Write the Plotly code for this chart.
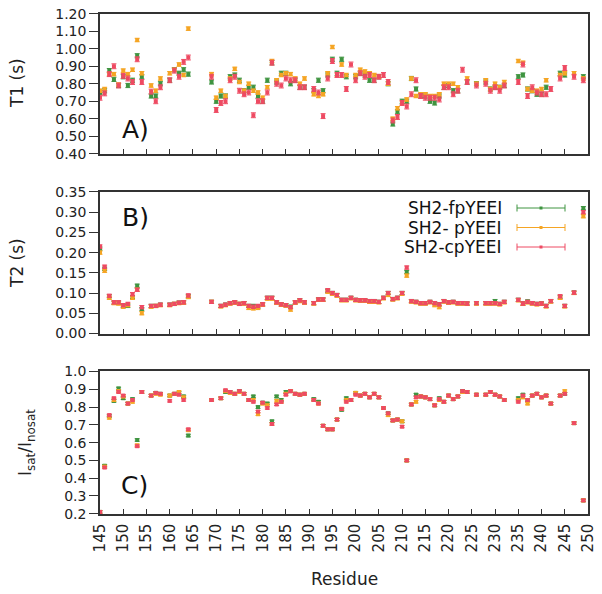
import plotly.graph_objects as go
from plotly.subplots import make_subplots

N = None
residues = [145,146,147,148,149,150,151,152,153,154,156,157,158,160,161,162,163,164,
            169,170,171,172,173,174,175,176,177,178,179,180,181,182,183,184,185,186,187,188,189,
            191,192,193,194,195,196,197,198,199,200,201,202,203,204,205,206,207,208,209,210,
            211,212,213,214,215,216,217,218,219,220,221,222,223,224,226,228,229,230,231,232,
            235,236,237,238,239,240,241,242,244,245,247,249]

t1_fp = [0.75,0.76,0.875,0.825,0.79,0.84,0.79,0.82,0.96,0.84,0.73,0.73,0.80,0.82,0.88,0.86,0.88,0.855,
         0.81,0.70,0.73,0.73,0.84,0.85,0.82,0.76,0.78,0.78,0.73,0.70,0.82,0.92,0.81,0.86,0.86,0.80,0.82,0.78,0.78,
         0.76,0.82,0.76,0.85,0.94,0.86,0.94,0.84,N,0.84,0.86,0.85,0.82,0.82,0.84,N,0.80,0.57,0.64,0.70,
         0.70,0.83,0.77,0.73,0.73,0.70,0.69,0.73,0.78,0.79,0.76,0.76,N,0.81,0.80,0.81,0.77,0.78,0.78,0.79,
         0.84,0.85,0.77,0.76,0.74,0.74,0.78,N,0.86,0.85,N,0.84]
t1_p = [0.76,0.77,0.855,0.855,0.795,0.875,0.855,0.88,1.05,0.86,0.79,0.76,0.83,0.86,0.88,0.91,0.85,1.115,
        0.855,0.72,0.76,0.73,0.83,0.885,0.81,0.76,0.80,0.76,0.75,0.72,0.78,0.93,0.82,0.85,0.86,0.855,0.83,0.80,0.83,
        0.74,0.73,0.74,0.86,1.01,0.85,0.91,0.85,N,0.85,0.88,0.87,0.86,0.85,0.84,N,0.80,0.60,0.66,0.69,
        0.71,0.83,0.73,0.74,0.74,0.73,0.73,0.74,0.80,0.80,0.80,0.78,N,0.83,0.80,0.82,0.77,0.80,0.78,0.81,
        0.93,0.92,0.77,0.76,0.76,0.77,0.82,N,0.85,0.86,0.86,0.83]
t1_cp = [0.72,0.745,0.855,0.90,0.79,0.845,0.83,0.81,0.94,0.81,0.755,0.70,0.78,0.82,0.875,0.84,0.925,0.95,
         0.84,0.65,0.69,0.70,0.82,0.84,0.76,0.74,0.75,0.62,0.70,0.70,0.75,0.92,0.80,0.79,0.83,0.82,0.82,0.78,0.78,
         0.77,0.75,0.615,0.83,0.93,0.85,0.85,0.77,0.91,0.82,0.86,0.84,0.85,0.82,0.84,0.85,0.81,0.59,0.61,0.69,
         0.67,0.74,0.82,0.73,0.72,0.72,0.72,0.71,0.78,0.78,0.74,0.76,0.88,0.81,0.79,0.80,0.76,0.78,0.76,0.79,
         0.81,0.91,0.73,0.78,0.75,0.74,0.74,0.77,0.83,0.89,0.84,0.82]

t2_fp = [0.21,0.16,0.092,0.076,0.076,0.068,0.068,0.090,0.118,0.060,0.068,0.068,0.071,0.071,0.073,0.076,0.077,0.092,
         0.078,N,0.068,0.071,0.075,0.077,0.073,0.075,0.068,0.068,0.066,0.072,0.088,0.088,0.077,0.072,0.070,0.066,0.077,0.082,0.077,
         0.075,0.084,0.084,0.105,0.100,0.095,0.083,0.083,0.088,0.083,0.082,0.082,0.080,0.080,0.078,0.088,0.100,0.085,0.088,0.100,
         0.152,0.080,0.078,0.075,0.075,0.078,0.075,0.072,0.080,0.077,0.078,0.075,0.075,0.074,0.075,0.075,0.075,0.080,0.073,0.078,
         0.083,0.074,0.079,0.075,0.073,0.074,0.068,0.080,0.090,0.068,0.101,0.310]
t2_p = [0.20,0.155,0.088,0.075,0.074,0.066,0.070,0.088,0.108,0.050,0.066,0.068,0.070,0.070,0.073,0.075,0.076,0.090,
        0.078,N,0.067,0.070,0.074,0.076,0.073,0.074,0.063,0.062,0.063,0.071,0.086,0.086,0.076,0.071,0.069,0.059,0.076,0.080,0.076,
        0.074,0.083,0.083,0.103,0.098,0.093,0.082,0.082,0.087,0.082,0.081,0.081,0.078,0.078,0.077,0.087,0.095,0.084,0.087,0.098,
        0.143,0.079,0.077,0.074,0.074,0.077,0.070,0.065,0.079,0.076,0.077,0.074,0.074,0.073,0.074,0.074,0.074,0.074,0.072,0.077,
        0.082,0.073,0.077,0.074,0.072,0.073,0.067,0.079,0.088,0.067,0.100,0.290]
t2_cp = [0.215,0.165,0.093,0.077,0.077,0.070,0.073,0.097,0.108,0.065,0.068,0.068,0.071,0.071,0.073,0.076,0.077,0.094,
         0.078,N,0.068,0.071,0.075,0.077,0.073,0.075,0.068,0.066,0.068,0.072,0.088,0.088,0.077,0.072,0.070,0.065,0.077,0.082,0.077,
         0.075,0.084,0.084,0.107,0.100,0.095,0.083,0.083,0.088,0.083,0.082,0.082,0.080,0.080,0.078,0.088,0.100,0.085,0.088,0.100,
         0.163,0.080,0.078,0.075,0.075,0.078,0.075,0.072,0.080,0.077,0.078,0.075,0.075,0.074,0.075,0.075,0.075,0.075,0.073,0.078,
         0.083,0.074,0.078,0.075,0.073,0.074,0.068,0.080,0.092,0.068,0.101,0.300]

i_fp = [0.21,0.47,0.75,0.835,0.905,0.85,0.82,0.845,0.615,0.885,0.865,0.88,0.875,0.865,0.875,0.88,0.86,0.64,
        0.84,N,0.85,0.885,0.885,0.875,0.89,0.875,0.84,0.86,0.80,0.825,0.82,0.72,0.86,0.84,0.885,0.89,0.875,0.87,0.875,
        0.845,0.83,0.695,0.675,0.675,0.73,0.785,0.85,0.84,0.88,0.865,0.875,0.855,0.875,0.855,0.795,0.765,0.725,0.73,0.72,
        0.50,0.815,0.87,0.86,0.855,0.845,0.81,0.85,0.83,0.865,0.845,0.86,0.89,0.885,0.87,0.87,0.885,0.87,0.86,0.84,
        0.85,0.87,0.84,0.865,0.875,0.855,0.865,0.82,0.865,0.875,0.71,0.275]
i_p = [0.21,0.465,0.74,0.84,0.89,0.86,0.82,0.83,0.585,0.885,0.865,0.875,0.87,0.865,0.875,0.885,0.855,0.67,
       0.84,N,0.85,0.89,0.88,0.875,0.885,0.875,0.84,0.84,0.76,0.82,0.81,0.705,0.835,0.83,0.875,0.89,0.875,0.87,0.875,
       0.84,0.82,0.695,0.675,0.675,0.73,0.79,0.84,0.84,0.88,0.865,0.875,0.855,0.875,0.855,0.795,0.755,0.725,0.73,0.72,
       0.50,0.815,0.83,0.86,0.855,0.845,0.81,0.84,0.83,0.865,0.845,0.86,0.885,0.885,0.87,0.87,0.885,0.87,0.86,0.84,
       0.84,0.855,0.82,0.865,0.875,0.855,0.865,0.82,0.865,0.89,0.71,0.275]
i_cp = [0.21,0.46,0.755,0.85,0.885,0.865,0.82,0.84,0.58,0.885,0.865,0.88,0.875,0.835,0.875,0.87,0.84,0.675,
        0.84,N,0.85,0.895,0.885,0.875,0.89,0.875,0.84,0.83,0.775,0.825,0.795,0.705,0.815,0.83,0.87,0.89,0.875,0.87,0.875,
        0.84,0.82,0.695,0.675,0.675,0.73,0.79,0.83,0.84,0.87,0.865,0.875,0.855,0.875,0.855,0.795,0.765,0.725,0.73,0.69,
        0.50,0.815,0.855,0.86,0.855,0.845,0.81,0.845,0.83,0.865,0.845,0.86,0.89,0.885,0.87,0.87,0.885,0.87,0.86,0.84,
        0.83,0.865,0.84,0.865,0.875,0.855,0.865,0.82,0.865,0.875,0.71,0.275]

series_names = ["SH2-fpYEEI", "SH2- pYEEI", "SH2-cpYEEI"]
colors = ["#3f9440", "#f5a524", "#ee4a62"]
err_t1 = [0.012, 0.010, 0.014]
err_t2 = [0.004, 0.004, 0.004]
err_i = [0.007, 0.007, 0.006]

x_ticks = list(range(145, 251, 5))
t1_ticks = [0.40, 0.50, 0.60, 0.70, 0.80, 0.90, 1.00, 1.10, 1.20]
t2_ticks = [0.00, 0.05, 0.10, 0.15, 0.20, 0.25, 0.30, 0.35]
i_ticks = [0.2, 0.3, 0.4, 0.5, 0.6, 0.7, 0.8, 0.9, 1.0]

FONT = "DejaVu Sans"
OFF = 8                       # default page body margin
W, H = 602 - OFF, 594 - OFF
PL, PR, PT, PB = 100, 588, 13, 514
ML, MR, MT, MB = PL - OFF, W - (PR - OFF), PT - OFF, H - (PB - OFF)
ph = PB - PT
pw = PR - PL

def px_x(px):
    return (px - PL) / pw
def px_y(py):
    return (PB - py) / ph
def clamp(v):
    return max(0.0, min(1.0, v))
def dom(top_px, bot_px):
    return [clamp(px_y(bot_px)), clamp(px_y(top_px))]

fig = make_subplots(rows=3, cols=1)

panels = [
    (1, [t1_fp, t1_p, t1_cp], err_t1),
    (2, [t2_fp, t2_p, t2_cp], err_t2),
    (3, [i_fp, i_p, i_cp], err_i),
]
for row, data, errs in panels:
    for k in range(3):
        fig.add_trace(go.Scatter(
            x=residues, y=data[k], mode="markers",
            marker=dict(symbol="square", size=4, color=colors[k]),
            error_y=dict(type="constant", value=errs[k], color=colors[k], thickness=1, width=2.5),
            showlegend=False, cliponaxis=False, name=series_names[k]),
            row=row, col=1)

doms = [dom(13.5, 154.0), dom(191.7, 333.7), dom(371.3, 514)]
yranges = [[0.40, 1.20], [0.0, 0.35], [0.2, 1.0]]
yticks = [t1_ticks, t2_ticks, i_ticks]
yfmt = ["{:.2f}", "{:.2f}", "{:.1f}"]

axis_common = dict(showline=True, linecolor="#333333", linewidth=1.5, mirror=True,
                   showgrid=False, zeroline=False, tickcolor="#333333", ticklabeloverflow="allow")
for i in range(3):
    xn = "xaxis" if i == 0 else f"xaxis{i+1}"
    yn = "yaxis" if i == 0 else f"yaxis{i+1}"
    fig.layout[xn].update(range=[145, 250], tickvals=x_ticks, ticks="inside", ticklen=5,
                          tickwidth=1.2, showticklabels=(i == 2), tickangle=-90,
                          tickfont=dict(family=FONT, size=15, color="#222"),
                          ticklabelstandoff=2, **axis_common)
    lo, hi = yranges[i]
    pad = (hi - lo) * 0.002
    fig.layout[yn].update(domain=doms[i], range=[lo - pad, hi + pad],
                          tickmode="array",
                          tickvals=yticks[i], ticktext=[yfmt[i].format(v) for v in yticks[i]],
                          ticks="outside", ticklen=9, tickwidth=1.2,
                          tickfont=dict(family=FONT, size=14, color="#222"), **axis_common)

ann = []
ann.append(dict(text="T1 (s)", x=px_x(17), y=px_y(83), textangle=-90))
ann.append(dict(text="T2 (s)", x=px_x(17), y=px_y(263), textangle=-90))
ann.append(dict(text="I<sub>sat</sub>/I<sub>nosat</sub>", x=px_x(26), y=px_y(443), textangle=-90))
ann.append(dict(text="Residue", x=px_x(344), y=px_y(579), textangle=0))
for a in ann:
    a.update(xref="paper", yref="paper", showarrow=False, xanchor="center", yanchor="middle",
             font=dict(family=FONT, size=17, color="#222"))
for lab, (cx, cy) in zip(["A)", "B)", "C)"], [(135, 129), (135.5, 217), (134.5, 485)]):
    ann.append(dict(text=lab, x=px_x(cx), y=px_y(cy), xref="paper", yref="paper", showarrow=False,
                    xanchor="center", yanchor="middle", font=dict(family=FONT, size=25, color="#111")))

shapes = []
leg_rows = [208, 227.5, 247]
for k in range(3):
    yy = px_y(leg_rows[k])
    ann.append(dict(text=series_names[k], x=px_x(504), y=yy, xref="paper", yref="paper", showarrow=False,
                    xanchor="right", yanchor="middle", font=dict(family=FONT, size=17, color="#111")))
    shapes.append(dict(type="line", xref="paper", yref="paper", x0=px_x(517), x1=px_x(565), y0=yy, y1=yy,
                       line=dict(color=colors[k], width=1)))
    for xe in (517, 565):
        shapes.append(dict(type="line", xref="paper", yref="paper", x0=px_x(xe), x1=px_x(xe),
                           y0=px_y(leg_rows[k] - 3.5), y1=px_y(leg_rows[k] + 3.5),
                           line=dict(color=colors[k], width=1)))
    shapes.append(dict(type="rect", xref="paper", yref="paper", x0=px_x(539.5), x1=px_x(542.5),
                       y0=px_y(leg_rows[k] + 1.5), y1=px_y(leg_rows[k] - 1.5),
                       line=dict(width=0), fillcolor=colors[k]))

fig.update_layout(width=W, height=H, margin=dict(l=ML, r=MR, t=MT, b=MB, autoexpand=False),
                  paper_bgcolor="white", plot_bgcolor="white", annotations=ann, shapes=shapes,
                  font=dict(family=FONT))
fig.write_html("out.html")
